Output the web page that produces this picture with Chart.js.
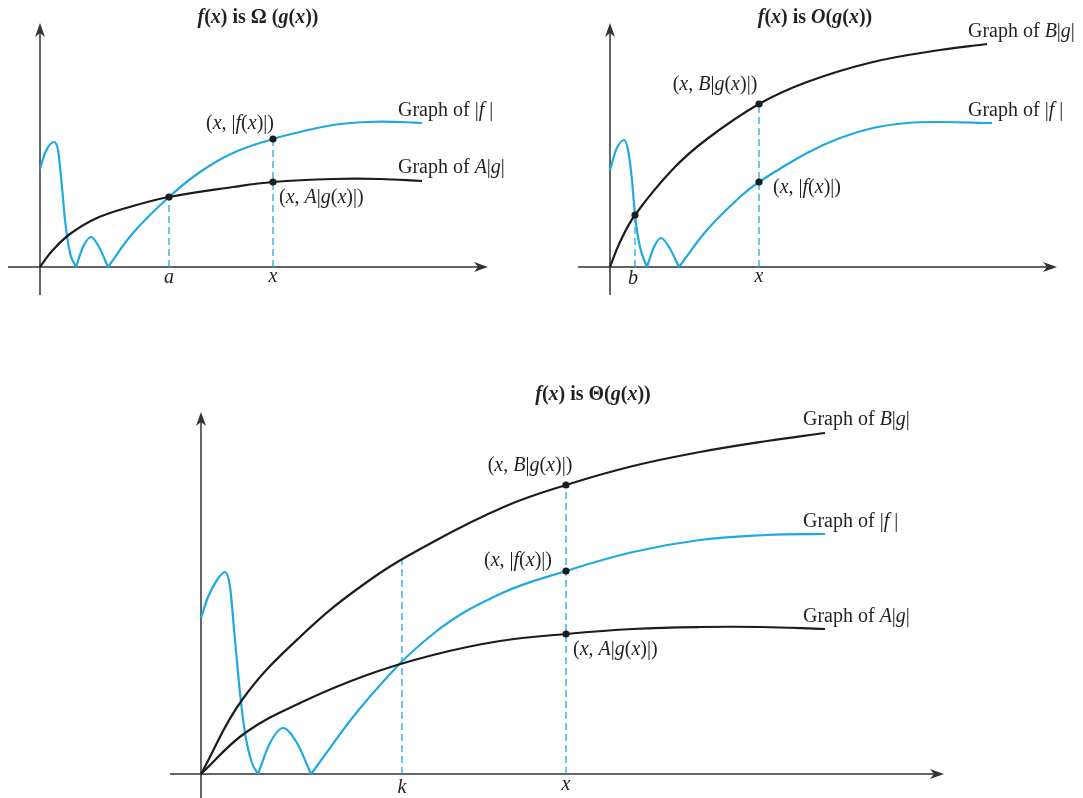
<!DOCTYPE html>
<html><head><meta charset="utf-8">
<script src="https://cdn.jsdelivr.net/npm/chart.js@4/dist/chart.umd.min.js"></script>
<style>
html,body{margin:0;padding:0;background:#fff;width:1083px;height:798px;overflow:hidden}
.p{position:absolute}
</style></head><body>
<div class="p" style="left:0;top:0;width:540px;height:300px"><canvas id="c1"></canvas></div>
<div class="p" style="left:545px;top:0;width:538px;height:300px"><canvas id="c2"></canvas></div>
<div class="p" style="left:150px;top:380px;width:830px;height:418px"><canvas id="c3"></canvas></div>
<script>
// ---------- Panel 1: f(x) is Omega(g(x)) ----------
const omegaF1 = [[0,98],[5,114],[14,125],[18,117],[22,80],[25,47],[30,14],[36,0]];
const omegaF2 = [[36,0],[43,20],[51,30],[59,20],[68,0]];
const omegaF3 = [[68,0],[93,34],[129,70],[160,95],[193,114],[233,128],[260,135],[293,142],[327,145],[360,145],[382,144]];
const omegaAg = [[0,0],[12,16],[30,33],[57,49],[93,61],[129,70],[193,80],[233,85],[293,88],[340,88],[382,86]];
const omegaDots = [[129,70],[233,128],[233,85]];
const omegaDashes = [[129,70],[233,128]];

// ---------- Panel 2: f(x) is O(g(x)) ----------
const bigOF1 = [[0,97],[6,117],[14,127],[18,117],[22,87],[25,52],[30,20],[37,0]];
const bigOF2 = [[37,0],[44,20],[51,29],[59,20],[69,0]];
const bigOF3 = [[69,0],[97,37],[130,70],[149,85],[197,114],[230,129],[263,139],[297,144],[330,145],[382,144]];
const bigOBg = [[0,0],[10,25],[25,52],[63,98],[97,128],[149,163],[197,185],[263,205],[330,217],[377,223]];
const bigODots = [[25,52],[149,163],[149,85]];
const bigODashes = [[25,52],[149,163]];

// ---------- Panel 3: f(x) is Theta(g(x)) ----------
const thetaF1 = [[0,156],[7,177],[16,194],[24,202],[29,187],[34,134],[39,81],[44,41],[51,11],[57,0]];
const thetaF2 = [[57,0],[69,31],[82,46],[96,31],[110,0]];
const thetaF3 = [[110,0],[166,74],[232,140],[299,180],[365,203],[432,222],[499,234],[566,239],[624,240]];
const thetaBg = [[0,0],[41,74],[100,138],[166,192],[232,232],[305,268],[365,289],[432,308],[499,322],[566,333],[624,341]];
const thetaAg = [[0,0],[44,41],[99,71],[166,99],[232,119],[299,133],[365,140],[432,145],[500,147],[560,147],[624,145]];
const thetaDots = [[365,289],[365,203],[365,140]];
const thetaDashes = [[201,214],[365,289]];

// axis extents [xStart, xEnd, yStart, yEnd]
const axes1 = [-32, 448, -28, 244];
const axes2 = [-32, 447, -28, 244];
const axes3 = [-31, 743, -24, 362];

const BLUE = '#1ea9e1', BLACK = '#1c1c1c', AXIS = '#333333';
const SERIF = '"Liberation Serif","DejaVu Serif",serif';
const FS = 20;

const pts = a => a.map(p => ({x:p[0], y:p[1]}));

function drawRich(ctx, str, x, y, align, size, bold){
  const segs = str.split('*').map((t,i)=>({t, it: i%2===1}));
  const font = it => (it?'italic ':'') + (bold?'bold ':'') + size + 'px ' + SERIF;
  let w = 0;
  segs.forEach(s => { ctx.font = font(s.it); s.w = ctx.measureText(s.t).width; w += s.w; });
  ctx.save();
  let cx = x + (align === 'center' ? -w/2 : (align === 'right' ? -w : 0));
  ctx.textBaseline = 'middle';
  ctx.textAlign = 'left';
  ctx.fillStyle = '#231f20';
  segs.forEach(s => { ctx.font = font(s.it); ctx.fillText(s.t, cx, y); cx += s.w; });
  ctx.restore();
}

function arrow(ctx, x, y, dir){
  ctx.save();
  ctx.translate(x, y);
  ctx.rotate(dir);
  ctx.beginPath();
  ctx.moveTo(0,0);
  ctx.lineTo(-14,-5);
  ctx.lineTo(-10,0);
  ctx.lineTo(-14,5);
  ctx.closePath();
  ctx.fillStyle = AXIS;
  ctx.fill();
  ctx.restore();
}

function makeChart(id, o){
  const ds = [];
  o.wiggle.forEach(s => ds.push({data:pts(s), borderColor:BLUE, borderWidth:2.2, showLine:true, pointRadius:0, cubicInterpolationMode:'monotone', order:2}));
  o.blue.forEach(s => ds.push({data:pts(s), borderColor:BLUE, borderWidth:2.2, showLine:true, pointRadius:0, tension:0.4, order:2}));
  o.black.forEach(s => ds.push({data:pts(s), borderColor:BLACK, borderWidth:2.2, showLine:true, pointRadius:0, tension:0.4, order:1}));
  o.dashes.forEach(p => ds.push({data:pts([[p[0],0],p]), borderColor:BLUE, borderWidth:1.3, borderDash:[7,4], showLine:true, pointRadius:0, order:3}));
  ds.push({data:pts(o.dots), showLine:false, pointRadius:3.6, pointBackgroundColor:BLACK, pointBorderWidth:0, order:0});

  const plugin = {
    id:'deco'+id,
    beforeDatasetsDraw(chart){
      const ctx = chart.ctx, X = chart.scales.x, Y = chart.scales.y;
      const a = o.axes;
      ctx.save();
      ctx.strokeStyle = AXIS; ctx.lineWidth = 1.5;
      ctx.beginPath();
      ctx.moveTo(X.getPixelForValue(a[0]), Y.getPixelForValue(0));
      ctx.lineTo(X.getPixelForValue(a[1])-6, Y.getPixelForValue(0));
      ctx.moveTo(X.getPixelForValue(0), Y.getPixelForValue(a[2]));
      ctx.lineTo(X.getPixelForValue(0), Y.getPixelForValue(a[3])+6);
      ctx.stroke();
      arrow(ctx, X.getPixelForValue(a[1]), Y.getPixelForValue(0), 0);
      arrow(ctx, X.getPixelForValue(0), Y.getPixelForValue(a[3]), -Math.PI/2);
      ctx.restore();
    },
    afterDatasetsDraw(chart){
      const ctx = chart.ctx, X = chart.scales.x, Y = chart.scales.y;
      drawRich(ctx, o.title[0], X.getPixelForValue(o.title[1]), Y.getPixelForValue(o.title[2]), 'center', FS, true);
      o.labels.forEach(l => drawRich(ctx, l[0], X.getPixelForValue(l[1]), Y.getPixelForValue(l[2]), l[3], FS, false));
    }
  };

  new Chart(document.getElementById(id), {
    type:'scatter',
    data:{datasets:ds},
    options:{
      responsive:true, maintainAspectRatio:false, animation:false, devicePixelRatio:1,
      layout:{padding:0, autoPadding:false},
      plugins:{legend:{display:false}, tooltip:{enabled:false}},
      events:[],
      scales:{
        x:{type:'linear', min:o.xr[0], max:o.xr[1], display:false},
        y:{type:'linear', min:o.yr[0], max:o.yr[1], display:false}
      }
    },
    plugins:[plugin]
  });
}

makeChart('c1', {
  xr:[-40,500], yr:[-33,267], axes:axes1,
  wiggle:[omegaF1, omegaF2], blue:[omegaF3], black:[omegaAg], dots:omegaDots, dashes:omegaDashes,
  title:['*f*(*x*) is Ω (*g*(*x*))', 218, 249],
  labels:[
    ['(*x*, |*f*(*x*)|)', 200, 143, 'center'],
    ['(*x*, *A*|*g*(*x*)|)', 239, 69, 'left'],
    ['Graph of |*f* |', 358, 156, 'left'],
    ['Graph of *A*|*g*|', 358, 99, 'left'],
    ['*a*', 129, -11, 'center'],
    ['*x*', 233, -10, 'center']
  ]
});

makeChart('c2', {
  xr:[-65,473], yr:[-33,267], axes:axes2,
  wiggle:[bigOF1, bigOF2], blue:[bigOF3], black:[bigOBg], dots:bigODots, dashes:bigODashes,
  title:['*f*(*x*) is *O*(*g*(*x*))', 205, 249],
  labels:[
    ['(*x*, *B*|*g*(*x*)|)', 105, 182, 'center'],
    ['(*x*, |*f*(*x*)|)', 163, 79, 'left'],
    ['Graph of *B*|*g*|', 358, 235, 'left'],
    ['Graph of |*f* |', 358, 156, 'left'],
    ['*b*', 23, -12, 'center'],
    ['*x*', 149, -10, 'center']
  ]
});

makeChart('c3', {
  xr:[-51,779], yr:[-24,394], axes:axes3,
  wiggle:[thetaF1, thetaF2], blue:[thetaF3], black:[thetaBg, thetaAg], dots:thetaDots, dashes:thetaDashes,
  title:['*f*(*x*) is Θ(*g*(*x*))', 392, 379],
  labels:[
    ['(*x*, *B*|*g*(*x*)|)', 329, 308, 'center'],
    ['(*x*, |*f*(*x*)|)', 317, 213, 'center'],
    ['(*x*, *A*|*g*(*x*)|)', 372, 124, 'left'],
    ['Graph of *B*|*g*|', 602, 354, 'left'],
    ['Graph of |*f* |', 602, 252, 'left'],
    ['Graph of *A*|*g*|', 602, 157, 'left'],
    ['*k*', 201, -14, 'center'],
    ['*x*', 365, -11, 'center']
  ]
});
</script>
</body></html>
